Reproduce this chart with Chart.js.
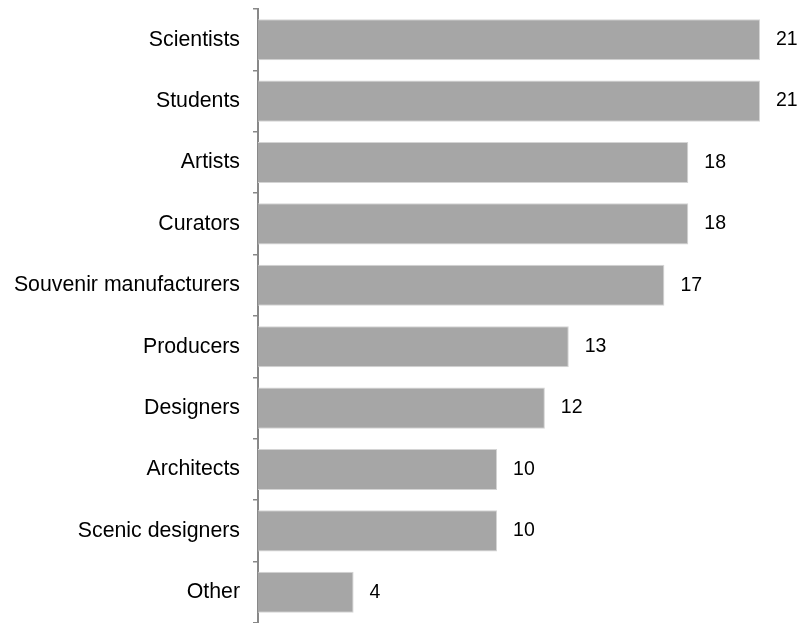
<!DOCTYPE html>
<html>
<head>
<meta charset="utf-8">
<script src="https://cdn.jsdelivr.net/npm/chart.js@4.4.0/dist/chart.umd.min.js"></script>
<style>
  html, body { margin: 0; padding: 0; background: #fff; }
  #wrap { width: 802px; height: 623px; }
</style>
</head>
<body>
<div id="wrap"><canvas id="chart" width="802" height="623"></canvas></div>
<script>
// Categorie e conteggi
const categories = ["Scientists", "Students", "Artists", "Curators", "Souvenir manufacturers",
    "Producers", "Designers", "Architects", "Scenic designers", "Other"];
const counts = [21, 21, 18, 18, 17, 13, 12, 10, 10, 4];

// Etichette con il valore a destra di ogni barra
const valueLabels = {
    id: 'valueLabels',
    afterDatasetsDraw(chart) {
        const ctx = chart.ctx;
        const meta = chart.getDatasetMeta(0);
        ctx.save();
        ctx.font = '19.5px "Liberation Sans", Arial, sans-serif';
        ctx.fillStyle = '#000';
        ctx.textBaseline = 'middle';
        ctx.textAlign = 'left';
        meta.data.forEach((bar, i) => {
            ctx.fillText(String(counts[i]), bar.x + 16, bar.y);
        });
        ctx.restore();
    }
};

const ctx = document.getElementById("chart").getContext("2d");
const chart = new Chart(ctx, {
    type: 'bar',
    data: {
        labels: categories,
        datasets: [{
            data: counts,
            backgroundColor: '#a6a6a6',
            borderColor: '#d4d4d4',
            borderWidth: { top: 1, right: 1, bottom: 1, left: 0 },
            barPercentage: 0.67,
            categoryPercentage: 1
        }]
    },
    plugins: [valueLabels],
    options: {
        indexAxis: 'y',
        responsive: false,
        animation: false,
        layout: { padding: { top: 9, right: 42, bottom: 0, left: 0 } },
        plugins: {
            legend: { display: false },
            tooltip: { enabled: false }
        },
        scales: {
            x: {
                display: false,
                min: 0,
                max: 21
            },
            y: {
                // larghezza fissa dell'asse, niente margini extra sopra/sotto
                afterFit(scale) {
                    scale.width = 258;
                    scale.paddingTop = 0;
                    scale.paddingBottom = 0;
                },
                grid: {
                    drawOnChartArea: false,
                    tickLength: 5,
                    color: '#888888',
                    lineWidth: 1.5
                },
                border: { color: '#888888', width: 2 },
                ticks: {
                    color: '#000',
                    padding: 13,
                    font: { family: '"Liberation Sans", Arial, sans-serif', size: 21.3 }
                }
            }
        }
    }
});
</script>
</body>
</html>
